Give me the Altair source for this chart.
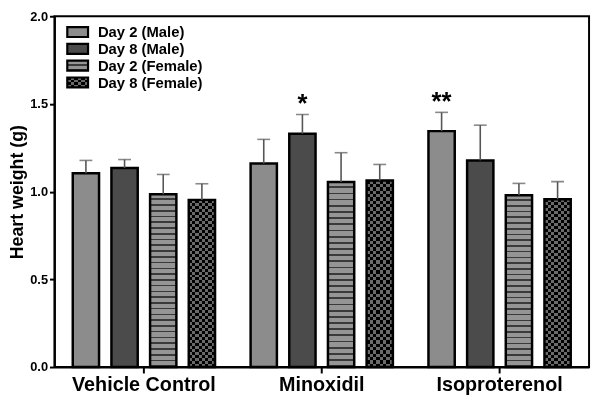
import altair as alt
import pandas as pd

groups = ["Vehicle Control", "Minoxidil", "Isoproterenol"]
series = ["Day 2 (Male)", "Day 8 (Male)", "Day 2 (Female)", "Day 8 (Female)"]
# mean values per series, in group order
day2_male = [1.105, 1.16, 1.345]
day8_male = [1.135, 1.33, 1.178]
day2_female = [0.985, 1.055, 0.98]
day8_female = [0.953, 1.063, 0.957]
# upper error bar ends
day2_male_err = [1.178, 1.298, 1.452]
day8_male_err = [1.183, 1.44, 1.379]
day2_female_err = [1.098, 1.222, 1.047]
day8_female_err = [1.045, 1.155, 1.057]
# significance marks per series, in group order
sig_marks = [["", "", "**"], ["", "*", ""], ["", "", ""], ["", "", ""]]

values = [day2_male, day8_male, day2_female, day8_female]
errs = [day2_male_err, day8_male_err, day2_female_err, day8_female_err]
rows = []
for si, s in enumerate(series):
    for gi, g in enumerate(groups):
        rows.append({"group": g, "series": s, "value": values[si][gi],
                     "err": errs[si][gi], "sig": sig_marks[si][gi]})
df = pd.DataFrame(rows)

FONT = "Liberation Sans"


def stripes(c1, c2, n, vertical, frac=0.5):
    stops = []
    for i in range(n):
        a = i / n
        b = (i + frac) / n
        c = (i + 1) / n
        stops += [alt.GradientStop(color=c1, offset=a), alt.GradientStop(color=c1, offset=b),
                  alt.GradientStop(color=c2, offset=b), alt.GradientStop(color=c2, offset=c)]
    if vertical:
        return alt.LinearGradient(gradient="linear", stops=stops, x1=0, x2=1, y1=0, y2=0)
    return alt.LinearGradient(gradient="linear", stops=stops, x1=0, x2=0, y1=0, y2=1)


fill_d2m = "#8c8c8c"
fill_d8m = "#4b4b4b"
stripe_fill = stripes("#959595", "#3a3a3a", 30, False, 0.72)
chk_v = stripes("#000000", "#6a6a6a", 4, True)
chk_h = stripes("#000000", "#6a6a6a", 28, False)

xenc = alt.X("group:N", sort=groups,
             scale=alt.Scale(domain=groups, paddingInner=0.2, paddingOuter=0.103),
             axis=alt.Axis(title=None, labelAngle=0, labelFontSize=20, labelFontWeight="bold",
                           labelFont=FONT, labelColor="black", domainColor="black",
                           domainWidth=2, tickColor="black", tickWidth=2, tickSize=6,
                           labelPadding=2))
xoff = alt.XOffset("series:N", sort=series,
                   scale=alt.Scale(domain=series, paddingInner=0.32, paddingOuter=0))
yscale = alt.Scale(domain=[0, 2])
yenc = alt.Y("value:Q", scale=yscale,
             axis=alt.Axis(title="Heart weight (g)", values=[0, 0.5, 1.0, 1.5, 2.0], format=".1f",
                           grid=False, labelFontSize=13, labelFontWeight="bold", labelFont=FONT,
                           labelColor="black", titleFontSize=18, titleFont=FONT,
                           titleFontWeight="bold", titleColor="black", domainColor="black",
                           domainWidth=2, tickColor="black", tickWidth=2, tickSize=5,
                           titlePadding=3, labelPadding=2))

base = alt.Chart(df)


def layer_for(s, **mk):
    return base.transform_filter(alt.datum.series == s).mark_bar(**mk).encode(x=xenc, xOffset=xoff, y=yenc)


bars = [
    layer_for(series[0], fill=fill_d2m, stroke="black", strokeWidth=2.5),
    layer_for(series[1], fill=fill_d8m, stroke="black", strokeWidth=2.5),
    layer_for(series[2], fill=stripe_fill, stroke="black", strokeWidth=2.5),
    layer_for(series[3], fill=chk_v, strokeWidth=0),
    layer_for(series[3], fill=chk_h, strokeWidth=0, blend="difference"),
    layer_for(series[3], fill="transparent", stroke="black", strokeWidth=2.5),
]

err_rule = base.mark_rule(color="#555555", strokeWidth=1.6).encode(
    x=xenc, xOffset=xoff, y=alt.Y("value:Q", scale=yscale), y2="err:Q")
err_cap = base.mark_tick(color="#555555", thickness=1.6, size=13).encode(
    x=xenc, xOffset=xoff, y=alt.Y("err:Q", scale=yscale))
sig = base.mark_text(fontSize=26, fontWeight="bold", font=FONT, color="black", dy=-10, baseline="middle").encode(
    x=xenc, xOffset=xoff, y=alt.Y("err:Q", scale=yscale), text="sig:N")

# custom legend
leg_df = pd.DataFrame({"series": series, "idx": list(range(4))})
lb = alt.Chart(leg_df)
leg_layers = []
LX, LY, LH, LS = 13, 11, 10, 17
for i, s in enumerate(series):
    y0 = LY + i * LS
    sub = lb.transform_filter(alt.datum.series == s)
    pos = dict(x=alt.value(LX), x2=alt.value(LX + 21), y=alt.value(y0), y2=alt.value(y0 + LH))
    if i == 0:
        leg_layers.append(sub.mark_rect(fill=fill_d2m, stroke="black", strokeWidth=2.2).encode(**pos))
    elif i == 1:
        leg_layers.append(sub.mark_rect(fill=fill_d8m, stroke="black", strokeWidth=2.2).encode(**pos))
    elif i == 2:
        leg_layers.append(sub.mark_rect(fill=stripes("#959595", "#3a3a3a", 2, False, 0.7), stroke="black", strokeWidth=2.2).encode(**pos))
    else:
        leg_layers.append(sub.mark_rect(fill=stripes("#000000", "#6a6a6a", 3, True), strokeWidth=0).encode(**pos))
        leg_layers.append(sub.mark_rect(fill=stripes("#000000", "#6a6a6a", 2, False), strokeWidth=0, blend="difference").encode(**pos))
        leg_layers.append(sub.mark_rect(fill="transparent", stroke="black", strokeWidth=2.2).encode(**pos))
    leg_layers.append(sub.mark_text(align="left", baseline="middle", fontSize=15, fontWeight="bold",
                                    font=FONT, color="black").encode(
        x=alt.value(LX + 31), y=alt.value(y0 + LH / 2 + 0.5), text="series:N"))

chart = alt.layer(*bars, err_rule, err_cap, sig, *leg_layers).properties(
    width=541, height=355, autosize=alt.AutoSizeParams(type="none"),
    padding={"left": 47, "top": 6, "right": 4, "bottom": 30}
).configure_view(stroke="black", strokeWidth=2)

chart.save("out.html", embed_options={"renderer": "svg", "actions": False})
